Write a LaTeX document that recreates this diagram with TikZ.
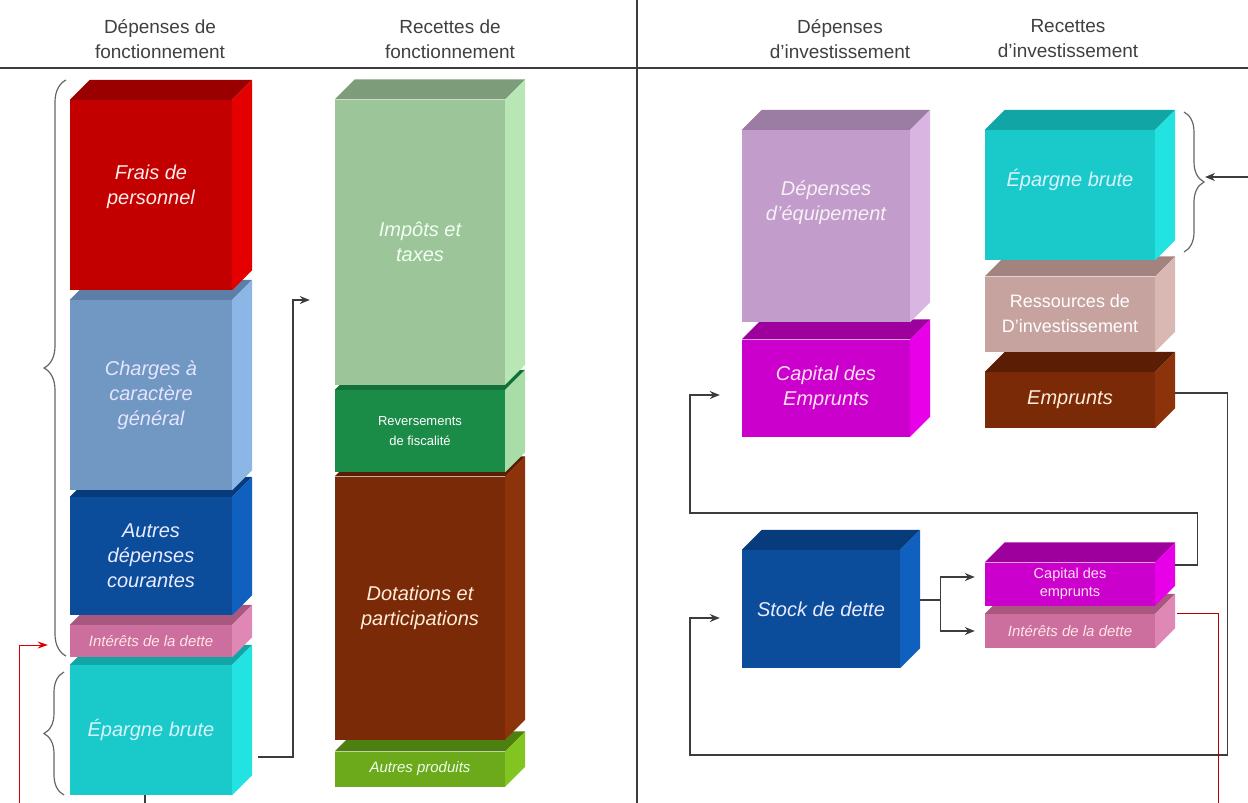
\documentclass[tikz,border=0pt]{standalone}
\usepackage{fontspec}
\setmainfont{Liberation Sans}
\usetikzlibrary{decorations.pathreplacing,calc,arrows.meta}

\definecolor{rougeF}{HTML}{C30000}\definecolor{rougeT}{HTML}{9A0000}\definecolor{rougeS}{HTML}{E50000}
\definecolor{grisbleuF}{HTML}{7197C3}\definecolor{grisbleuT}{HTML}{5D7EA6}\definecolor{grisbleuS}{HTML}{8BB6E6}
\definecolor{bleuF}{HTML}{0B4C9B}\definecolor{bleuT}{HTML}{073C7C}\definecolor{bleuS}{HTML}{1060C0}
\definecolor{roseF}{HTML}{CC6F9F}\definecolor{roseT}{HTML}{A8587F}\definecolor{roseS}{HTML}{E088B5}
\definecolor{cyanF}{HTML}{1ACACA}\definecolor{cyanT}{HTML}{12A5A5}\definecolor{cyanS}{HTML}{22E2E2}
\definecolor{vertclF}{HTML}{9CC59A}\definecolor{vertclT}{HTML}{7C9C7A}\definecolor{vertclS}{HTML}{B8E6B5}
\definecolor{vertF}{HTML}{1B8B48}\definecolor{vertT}{HTML}{137038}\definecolor{vertS}{HTML}{A8DDA8}
\definecolor{brunF}{HTML}{7A2A07}\definecolor{brunT}{HTML}{5B1E04}\definecolor{brunS}{HTML}{8C330B}
\definecolor{vjauneF}{HTML}{6DAA1B}\definecolor{vjauneT}{HTML}{4E8010}\definecolor{vjauneS}{HTML}{82C420}
\definecolor{mauveF}{HTML}{C29CCA}\definecolor{mauveT}{HTML}{9B7DA3}\definecolor{mauveS}{HTML}{D9B6E2}
\definecolor{magF}{HTML}{CC00CC}\definecolor{magT}{HTML}{9D009D}\definecolor{magS}{HTML}{E800E8}
\definecolor{vroseF}{HTML}{C7A39F}\definecolor{vroseT}{HTML}{A3837F}\definecolor{vroseS}{HTML}{D9B8B4}
\definecolor{trait}{HTML}{3C3C3C}

\tikzset{
  bloc/.style={rectangle,inner sep=0pt,align=center,text=white,
    font=\fontsize{20}{25}\selectfont\itshape},
  petit/.style={font=\fontsize{15}{19}\selectfont\itshape},
  entete/.style={align=center,text=black!75,font=\fontsize{19}{25}\selectfont},
  fil/.style={trait,line width=1.4pt},
  fleche/.style={fil,-{Stealth[length=10pt,width=8pt]}},
  rouge/.style={red!85!black,line width=1pt,-{Stealth[length=10pt,width=7pt]}},
  accolade/.style={decorate,decoration={brace,amplitude=22pt},black!60,line width=1.2pt}
}
% faces du dessus et de droite d'un bloc
\newcommand\faces[3]{%
  \fill[#2] (#1.north west)--++(20,-20)--($(#1.north east)+(20,-20)$)--(#1.north east)--cycle;
  \fill[#3] (#1.north east)--++(20,-20)--($(#1.south east)+(20,-20)$)--(#1.south east)--cycle;}

\begin{document}
\begin{tikzpicture}[x=1pt,y=-1pt]
\useasboundingbox (0,0) rectangle (1248,803);
\draw[fil,line width=1.8pt](0,68)--(1248,68);
\draw[fil](637,0)--(637,803);
\node[entete](hdf) at (160,39){Dépenses de\\fonctionnement};
\node[entete](hrf) at (450,39){Recettes de\\fonctionnement};
\node[entete](hdi) at (840,39){Dépenses\\d’investissement};
\node[entete](hri) at (1068,39){Recettes\\d’investissement};
% fonctionnement : dépenses
\node[bloc,fill=cyanF,text=cyan!15,minimum width=162pt,minimum height=130pt](eparg) at (151,730){Épargne brute};
\faces{eparg}{cyanT}{cyanS}
\node[bloc,petit,fill=roseF,text=pink!40,minimum width=162pt,minimum height=32pt](interets) at (151,641){Intérêts de la dette};
\faces{interets}{roseT}{roseS}
\node[bloc,fill=bleuF,text=blue!8,minimum width=162pt,minimum height=118pt](autres) at (151,556){Autres\\dépenses\\courantes};
\faces{autres}{bleuT}{bleuS}
\node[bloc,fill=grisbleuF,text=blue!10,minimum width=162pt,minimum height=190pt](charges) at (151,395){Charges à\\caractère\\général};
\faces{charges}{grisbleuT}{grisbleuS}
\node[bloc,fill=rougeF,text=red!8,minimum width=162pt,minimum height=190pt](frais) at (151,195){Frais de\\personnel\\[-5pt]\mbox{}};
\faces{frais}{rougeT}{rougeS}
% fonctionnement : recettes
\node[bloc,petit,fill=vjauneF,text=green!8,minimum width=170pt,minimum height=35pt](autprod) at (420,769){Autres produits};
\faces{autprod}{vjauneT}{vjauneS}
\node[bloc,fill=brunF,text=orange!15,minimum width=170pt,minimum height=263pt](dotations) at (420,608){Dotations et\\participations};
\faces{dotations}{brunT}{brunS}
\node[bloc,fill=vertF,minimum width=170pt,minimum height=82pt,font=\fontsize{13}{20}\selectfont](revers) at (420,431){Reversements\\de fiscalité};
\faces{revers}{vertT}{vertS}
\node[bloc,fill=vertclF,text=green!6,minimum width=170pt,minimum height=285pt](impots) at (420,242){Impôts et\\taxes};
\faces{impots}{vertclT}{vertclS}
% investissement : dépenses
\node[bloc,fill=magF,text=magenta!12,minimum width=168pt,minimum height=97pt](capE) at (826,388){Capital des\\Emprunts};
\faces{capE}{magT}{magS}
\node[bloc,fill=mauveF,text=violet!6,minimum width=168pt,minimum height=192pt](depeq) at (826,226){Dépenses\\d’équipement\\[25pt]\mbox{}};
\faces{depeq}{mauveT}{mauveS}
% investissement : recettes
\node[bloc,fill=brunF,text=orange!15,minimum width=170pt,minimum height=56pt](empr) at (1070,400){Emprunts};
\faces{empr}{brunT}{brunS}
\node[bloc,fill=vroseF,minimum width=170pt,minimum height=75pt,font=\fontsize{18}{25}\selectfont](ressources) at (1070,314){Ressources de\\D’investissement};
\faces{ressources}{vroseT}{vroseS}
\node[bloc,fill=cyanF,text=cyan!15,minimum width=170pt,minimum height=130pt](epargI) at (1070,195){Épargne brute\\[9pt]\mbox{}};
\faces{epargI}{cyanT}{cyanS}
% dette
\node[bloc,fill=bleuF,text=blue!8,minimum width=158pt,minimum height=118pt](stock) at (821,609){Stock de dette};
\faces{stock}{bleuT}{bleuS}
\node[bloc,petit,fill=roseF,text=pink!40,minimum width=170pt,minimum height=34pt](intP) at (1070,631){Intérêts de la dette};
\faces{intP}{roseT}{roseS}
\node[bloc,fill=magF,text=magenta!12,minimum width=170pt,minimum height=43pt,font=\fontsize{14.5}{18}\selectfont](capP) at (1070,584){Capital des\\emprunts};
\faces{capP}{magT}{magS}
% accolades
\draw[accolade](66,656)--(66,80);
\draw[accolade,decoration={amplitude=20pt}](64,795)--(64,672);
\draw[accolade,decoration={amplitude=20pt}](1184,112)--(1184,252);
% liaisons
\coordinate(basG) at (19,803);
\coordinate(basD) at (1218,803);
\coordinate(bordD) at (1248,177);
\coordinate(pointe) at (1205,177);
\draw[fleche]([xshift=26pt,yshift=-27pt]eparg.east)-|([xshift=-42pt,yshift=-58pt]impots.west)--([xshift=-25pt,yshift=-58pt]impots.west);
\draw[fil]([xshift=-6pt]eparg.south)--++(0,10);
\draw[rouge](basG)|-([xshift=-22pt,yshift=-4pt]interets.west);
\draw[fleche](bordD)--(pointe);
\draw[fleche]([xshift=20pt,yshift=7pt]empr.east)--++(52,0)|-(690,755)|-([xshift=-22pt,yshift=-9pt]stock.west);
\draw[fleche]([xshift=20pt,yshift=19pt]capP.east)--++(22,0)|-(690,513)|-([xshift=-22pt,yshift=-7pt]capE.west);
\draw[fil]([xshift=20pt,yshift=9pt]stock.east)--++(20,0)coordinate(fourche);
\draw[fleche](fourche)|-([xshift=-10pt,yshift=7pt]capP.west);
\draw[fleche](fourche)|-([xshift=-10pt]intP.west);
\draw[red!70!black,line width=1pt]([xshift=22pt]intP.north east)-|(basD);
\end{tikzpicture}
\end{document}
